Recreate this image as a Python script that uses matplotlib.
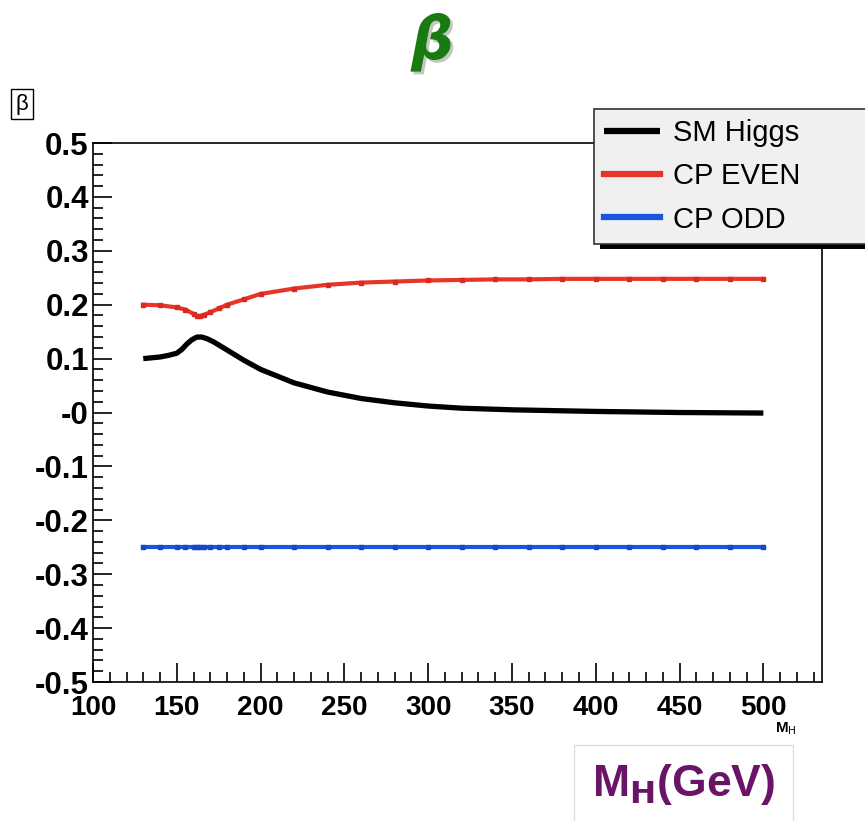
import numpy as np
import matplotlib
matplotlib.use("Agg")
import matplotlib.pyplot as plt
from matplotlib.ticker import MultipleLocator, FixedLocator, FixedFormatter
import matplotlib.patheffects as pe

# Data
mh_sm = [130, 140, 145, 150, 153, 156, 159, 162, 165, 168, 172, 180, 190, 200, 220,
         240, 260, 280, 300, 320, 350, 400, 450, 500]
beta_sm = [0.100, 0.103, 0.106, 0.110, 0.117, 0.127, 0.135, 0.140, 0.140, 0.137,
           0.131, 0.116, 0.097, 0.080, 0.055, 0.038, 0.026, 0.018, 0.012, 0.008,
           0.005, 0.002, 0.000, -0.001]

mh_even = [130, 140, 150, 155, 160, 162, 164, 166, 170, 175, 180, 190, 200, 220,
           240, 260, 280, 300, 320, 340, 360, 380, 400, 420, 440, 460, 480, 500]
beta_even = [0.200, 0.199, 0.195, 0.191, 0.183, 0.179, 0.179, 0.181, 0.186, 0.193,
             0.200, 0.210, 0.220, 0.230, 0.237, 0.241, 0.243, 0.245, 0.246, 0.247,
             0.247, 0.248, 0.248, 0.248, 0.248, 0.248, 0.248, 0.248]

mh_odd = mh_even
beta_odd = [-0.25] * len(mh_odd)

yticks = [0.5, 0.4, 0.3, 0.2, 0.1, 0.0, -0.1, -0.2, -0.3, -0.4, -0.5]
ylabels = ["0.5", "0.4", "0.3", "0.2", "0.1", "-0", "-0.1", "-0.2", "-0.3", "-0.4", "-0.5"]

plt.rcParams['font.family'] = ['Liberation Sans', 'DejaVu Sans']

fig = plt.figure(figsize=(8.65, 8.21), dpi=100)
ax = fig.add_axes([0.1075, 0.1693, 0.8428, 0.6565])

ax.plot(mh_sm, beta_sm, color='black', lw=3.8, solid_capstyle='butt', label='SM Higgs')
ax.plot(mh_even, beta_even, color='#e8352a', lw=3.0, marker='s', ms=3.5,
        mfc='#d82a20', mec='#d82a20', label='CP EVEN')
ax.plot(mh_odd, beta_odd, color='#1a55e0', lw=3.0, marker='s', ms=3.5,
        mfc='#1448c8', mec='#1448c8', label='CP ODD')

ax.set_xlim(100, 535)
ax.set_ylim(-0.5, 0.5)
ax.xaxis.set_major_locator(MultipleLocator(50))
ax.xaxis.set_minor_locator(MultipleLocator(10))
ax.yaxis.set_major_locator(FixedLocator(yticks))
ax.yaxis.set_major_formatter(FixedFormatter(ylabels))
ax.yaxis.set_minor_locator(MultipleLocator(0.02))
ax.tick_params(which='both', direction='in', top=False, right=False, width=1.2)
ax.tick_params(which='major', length=14)
ax.tick_params(which='minor', length=7)
ax.tick_params(axis='y', labelsize=22.5, pad=3)
ax.tick_params(axis='x', labelsize=20, pad=9)
for lab in ax.get_yticklabels() + ax.get_xticklabels():
    lab.set_fontweight('bold')
for sp in ax.spines.values():
    sp.set_linewidth(1.2)

leg = fig.legend(loc='upper left', mode='expand',
                 bbox_to_anchor=(594 / 865, 1 - 245 / 821, 300 / 865, 136 / 821),
                 fontsize=21, frameon=True, fancybox=False, shadow=False,
                 handlelength=1.9, handletextpad=0.45, labelspacing=0.52,
                 borderpad=0.35, borderaxespad=0)
leg.get_frame().set_facecolor('#f0f0f0')
leg.get_frame().set_edgecolor('#333333')
leg.get_frame().set_linewidth(1.2)
leg.get_frame().set_alpha(1)
leg.get_frame().set_path_effects([pe.SimplePatchShadow(offset=(4, -4), shadow_rgbFace='black', alpha=1), pe.Normal()])
for line in leg.get_lines():
    line.set_linewidth(4.5)
    line.set_marker('')

# small beta label box top left
fig.text(0.0255, 0.873, "\u03b2", fontsize=16, ha='center', va='center',
         bbox=dict(boxstyle='square,pad=0.2', fc='white', ec='black', lw=1))

# title
fig.text(0.50, 0.948, "\u03b2", fontsize=43, color='#1a7a12', fontweight='bold',
         style='italic', ha='center', va='center', family='DejaVu Sans',
         path_effects=[pe.withSimplePatchShadow(offset=(2, -2), alpha=0.25)])

# small axis label
fig.text(0.908, 0.112, "M$_{\\mathrm{H}}$", fontsize=11, fontweight='bold',
         ha='center', va='center')

# big x label
fig.text(0.79, 0.044, "M$_{\\mathbf{H}}$(GeV)", fontsize=32, fontweight='bold',
         color='#6a1468', ha='center', va='center',
         bbox=dict(boxstyle='square,pad=0.4', fc='white', ec='#dddddd', lw=1))

fig.savefig("out.png", dpi=100)
